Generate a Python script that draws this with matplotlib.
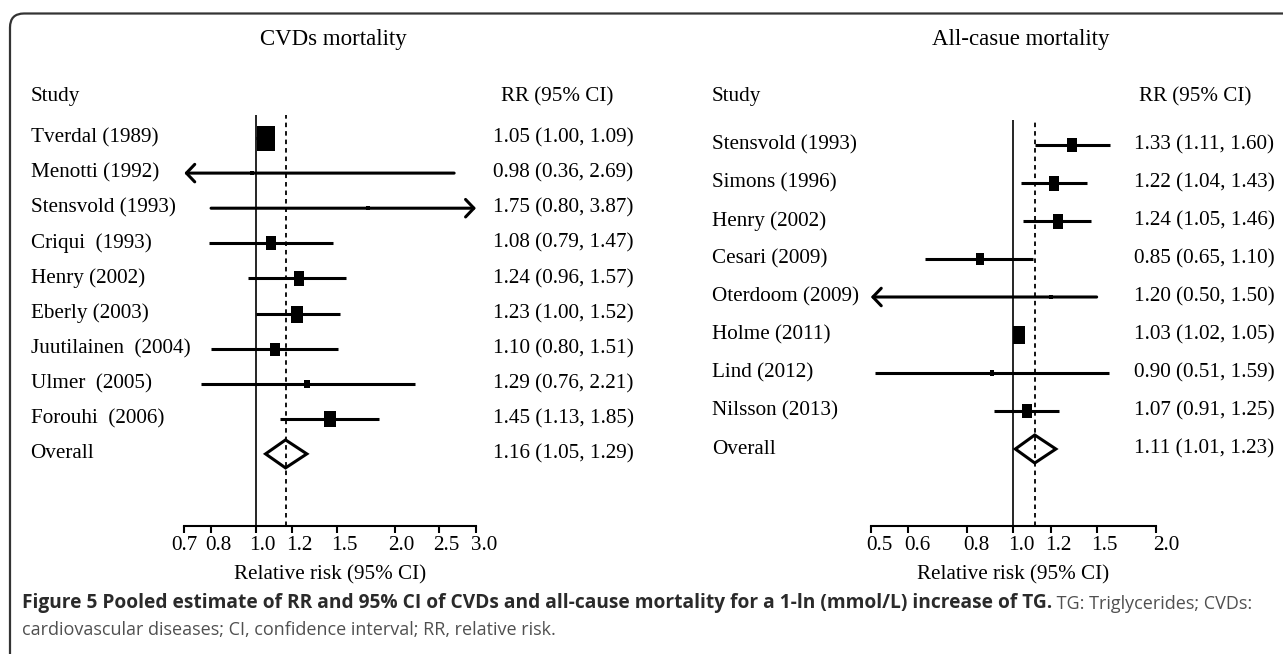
import matplotlib.pyplot as plt
from matplotlib.patches import FancyBboxPatch, Polygon
from matplotlib.ticker import FixedLocator, NullLocator, NullFormatter
from matplotlib.transforms import blended_transform_factory

# CVD mortality studies
cvd_studies = ['Tverdal (1989)', 'Menotti (1992)', 'Stensvold (1993)', 'Criqui  (1993)',
               'Henry (2002)', 'Eberly (2003)', 'Juutilainen  (2004)', 'Ulmer  (2005)',
               'Forouhi  (2006)']
cvd_rr = [1.05, 0.98, 1.75, 1.08, 1.24, 1.23, 1.10, 1.29, 1.45]
cvd_lo = [1.00, 0.36, 0.80, 0.79, 0.96, 1.00, 0.80, 0.76, 1.13]
cvd_hi = [1.09, 2.69, 3.87, 1.47, 1.57, 1.52, 1.51, 2.21, 1.85]
cvd_overall = (1.16, 1.05, 1.29)
cvd_ticks = [0.7, 0.8, 1.0, 1.2, 1.5, 2.0, 2.5, 3.0]

# all-cause mortality studies
all_studies = ['Stensvold (1993)', 'Simons (1996)', 'Henry (2002)', 'Cesari (2009)',
               'Oterdoom (2009)', 'Holme (2011)', 'Lind (2012)', 'Nilsson (2013)']
all_rr = [1.33, 1.22, 1.24, 0.85, 1.20, 1.03, 0.90, 1.07]
all_lo = [1.11, 1.04, 1.05, 0.65, 0.50, 1.02, 0.51, 0.91]
all_hi = [1.60, 1.43, 1.46, 1.10, 1.50, 1.05, 1.59, 1.25]
all_overall = (1.11, 1.01, 1.23)
all_ticks = [0.5, 0.6, 0.8, 1.0, 1.2, 1.5, 2.0]

# box heights in pixels (study weight)
cvd_box = [25, 5, 5, 14, 15, 17, 13, 8, 16]
all_box = [14, 15, 15, 12, 5, 18, 6, 14]

W, H = 1283, 654
SERIF = 'Liberation Serif'
FS = 15.2

fig = plt.figure(figsize=(W / 100, H / 100), dpi=100)


def px_box(x0, x1, ytop, ybot):
    return [x0 / W, 1 - ybot / H, (x1 - x0) / W, (ybot - ytop) / H]


box_marker = [(-0.36, -0.5), (0.36, -0.5), (0.36, 0.5), (-0.36, 0.5), (-0.36, -0.5)]


def forest(ax, studies, rr, lo, hi, overall, ticks, boxes, row0, step, xlim,
           name_x, rr_x, head_rr_x, title, tick_dx, title_dx=0):
    ax.set_xscale('log')
    ax.set_xlim(*xlim)
    n = len(studies)
    pos = ax.get_position()
    top_px = (1 - pos.y1) * H
    bot_px = (1 - pos.y0) * H
    ax.set_ylim((bot_px - row0) / step, (top_px - row0) / step)

    for s in ['left', 'right', 'top']:
        ax.spines[s].set_visible(False)
    ax.spines['bottom'].set_linewidth(1.5)
    ax.set_yticks([])
    ax.xaxis.set_major_locator(FixedLocator(ticks))
    ax.xaxis.set_minor_locator(NullLocator())
    ax.xaxis.set_major_formatter(NullFormatter())
    ax.tick_params(axis='x', direction='out', length=5, width=1.5)
    # tick labels sit slightly right of their ticks
    for t, dx in zip(ticks, tick_dx):
        ax.annotate('%.1f' % t, xy=(t, 0), xycoords=('data', 'axes fraction'),
                    xytext=(dx, -19), textcoords='offset pixels', ha='center',
                    va='center', fontsize=FS, family=SERIF, annotation_clip=False)

    ax.axvline(1.0, color='k', lw=1.2, zorder=2)

    for i in range(n):
        a, b = lo[i], hi[i]
        arrow_l = a <= xlim[0]
        arrow_r = b > xlim[1]
        a = max(a, xlim[0])
        b = min(b, xlim[1])
        head = '->,head_length=0.4,head_width=0.42'
        if arrow_l:
            ax.annotate('', xy=(a, i), xytext=(b, i), annotation_clip=False,
                        arrowprops=dict(arrowstyle=head, lw=2.2, color='k',
                                        shrinkA=0, shrinkB=0, mutation_scale=15))
        elif arrow_r:
            ax.annotate('', xy=(b, i), xytext=(a, i), annotation_clip=False,
                        arrowprops=dict(arrowstyle=head, lw=2.2, color='k',
                                        shrinkA=0, shrinkB=0, mutation_scale=15))
        else:
            ax.plot([a, b], [i, i], color='k', lw=2.2, solid_capstyle='butt', zorder=3)
        ax.plot(rr[i], i, marker=box_marker, ms=boxes[i] * 0.72, color='k',
                mew=0, zorder=4)

    est, olo, ohi = overall
    hh = 14 / step
    diamond = Polygon([(olo, n), (est, n - hh), (ohi, n), (est, n + hh)],
                      closed=True, facecolor='white', edgecolor='k', lw=2.2, zorder=3)
    ax.add_patch(diamond)
    ax.axvline(est, color='k', lw=1.3, ls=(0, (2.5, 2.2)), zorder=5)

    # text columns
    tr = blended_transform_factory(fig.transFigure, ax.transData)
    labels = studies + ['Overall']
    vals = list(zip(rr, lo, hi)) + [overall]
    for i, (lab, v) in enumerate(zip(labels, vals)):
        ax.text(name_x / W, i, lab, transform=tr, ha='left', va='center',
                fontsize=FS, family=SERIF, clip_on=False)
        ax.text(rr_x / W, i, '%.2f (%.2f, %.2f)' % v, transform=tr, ha='left',
                va='center', fontsize=FS, family=SERIF, clip_on=False)

    cx = (pos.x0 + pos.x1) / 2
    fig.text(name_x / W, 1 - 96.7 / H, 'Study', ha='left', va='center',
             fontsize=FS, family=SERIF)
    fig.text(head_rr_x / W, 1 - 96.7 / H, 'RR (95% CI)', ha='left', va='center',
             fontsize=FS, family=SERIF)
    fig.text(cx + title_dx / W, 1 - 39 / H, title, ha='center', va='center',
             fontsize=16.5, family=SERIF)
    fig.text(cx, 1 - 575 / H, 'Relative risk (95% CI)', ha='center', va='center',
             fontsize=FS, family=SERIF)


ax1 = fig.add_axes(px_box(184.3, 476.0, 115, 526))
forest(ax1, cvd_studies, cvd_rr, cvd_lo, cvd_hi, cvd_overall, cvd_ticks, cvd_box,
       row0=138, step=35.1, xlim=(0.7, 3.0), name_x=30.5, rr_x=493,
       head_rr_x=500.7, title='CVDs mortality',
       tick_dx=[0, 7, 7, 7, 7, 7, 7, 8], title_dx=3)

ax2 = fig.add_axes(px_box(870.8, 1155.8, 120, 526))
forest(ax2, all_studies, all_rr, all_lo, all_hi, all_overall, all_ticks, all_box,
       row0=145, step=38.0, xlim=(0.5, 2.0), name_x=711.7, rr_x=1134,
       head_rr_x=1139, title='All-casue mortality',
       tick_dx=[9, 9, 9, 8, 8, 8, 10], title_dx=7)

# rounded frame around figure and caption
frame = FancyBboxPatch((10, -60), W + 60, H + 60 - 13.5,
                       boxstyle='round,pad=0,rounding_size=14',
                       transform=None, facecolor='none', edgecolor='#333333', lw=1.6)
fig.add_artist(frame)

cap1 = fig.text(22 / W, 1 - 603 / H,
                'Figure 5 Pooled estimate of RR and 95% CI of CVDs and all-cause '
                'mortality for a 1-ln (mmol/L) increase of TG.',
                ha='left', va='center', fontsize=13.8, family='Open Sans',
                weight='bold', color='#2a2a2a')
ax1.annotate(' TG: Triglycerides; CVDs:', xy=(1, 0), xycoords=cap1,
             ha='left', va='bottom', fontsize=13.0, family='Open Sans',
             color='#505050', annotation_clip=False)
fig.text(22 / W, 1 - 630 / H,
         'cardiovascular diseases; CI, confidence interval; RR, relative risk.',
         ha='left', va='center', fontsize=13.0, family='Open Sans', color='#505050')

fig.savefig('out.png', dpi=100)
